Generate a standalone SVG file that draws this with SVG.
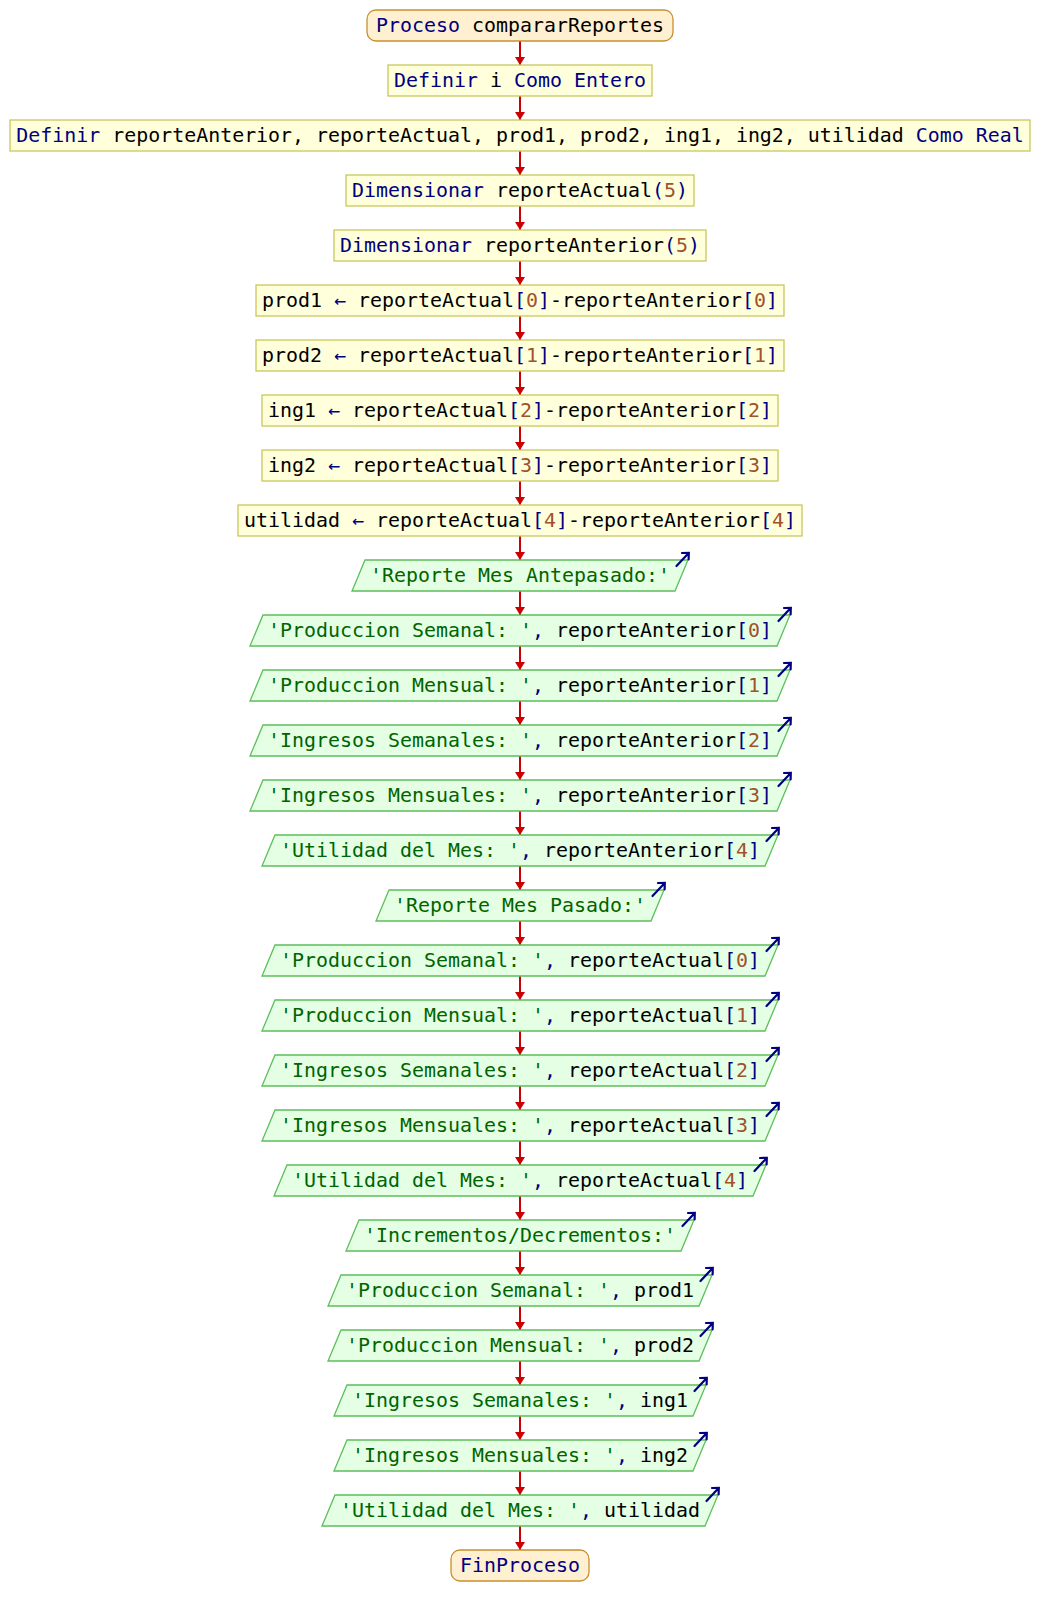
<svg xmlns="http://www.w3.org/2000/svg" xmlns:xlink="http://www.w3.org/1999/xlink" width="1040" height="1615" viewBox="0 0 1040 1615">
<style>
text{font-family:"DejaVu Sans Mono","Liberation Mono",monospace;font-size:19.93px;fill:#000;text-anchor:middle;white-space:pre}
.k{fill:#000080}.o{fill:#000080}.n{fill:#a0522d}.s{fill:#006400}
.term{fill:#fff0d2;stroke:#c8902e;stroke-width:1.3}
.proc{fill:#ffffdc;stroke:#c8c85a;stroke-width:1.3}
.para{fill:#e4ffe4;stroke:#5cbf5c;stroke-width:1.3}
.ico{fill:none;stroke:#000080;stroke-width:2.2;stroke-linecap:round;stroke-linejoin:miter}
.con{stroke:#cc0000;stroke-width:2;fill:none;marker-end:url(#ah)}
</style>
<defs>
<marker id="ah" viewBox="0 0 8 10" refX="8" refY="5" markerWidth="8" markerHeight="10" markerUnits="userSpaceOnUse" orient="auto"><path d="M0,0 L8,5 L0,10 z" fill="#cc0000"/></marker>
<g id="out"><path class="ico" d="M-11.5,6 L0.5,-6.8 M-6,-7 L0.8,-7.2 L0.6,-0.5"/></g>
</defs>
<rect width="1040" height="1615" fill="#ffffff"/>
<g id="connectors">
<line class="con" x1="520" y1="41" x2="520" y2="65"/>
<line class="con" x1="520" y1="96" x2="520" y2="120"/>
<line class="con" x1="520" y1="151" x2="520" y2="175"/>
<line class="con" x1="520" y1="206" x2="520" y2="230"/>
<line class="con" x1="520" y1="261" x2="520" y2="285"/>
<line class="con" x1="520" y1="316" x2="520" y2="340"/>
<line class="con" x1="520" y1="371" x2="520" y2="395"/>
<line class="con" x1="520" y1="426" x2="520" y2="450"/>
<line class="con" x1="520" y1="481" x2="520" y2="505"/>
<line class="con" x1="520" y1="536" x2="520" y2="560"/>
<line class="con" x1="520" y1="591" x2="520" y2="615"/>
<line class="con" x1="520" y1="646" x2="520" y2="670"/>
<line class="con" x1="520" y1="701" x2="520" y2="725"/>
<line class="con" x1="520" y1="756" x2="520" y2="780"/>
<line class="con" x1="520" y1="811" x2="520" y2="835"/>
<line class="con" x1="520" y1="866" x2="520" y2="890"/>
<line class="con" x1="520" y1="921" x2="520" y2="945"/>
<line class="con" x1="520" y1="976" x2="520" y2="1000"/>
<line class="con" x1="520" y1="1031" x2="520" y2="1055"/>
<line class="con" x1="520" y1="1086" x2="520" y2="1110"/>
<line class="con" x1="520" y1="1141" x2="520" y2="1165"/>
<line class="con" x1="520" y1="1196" x2="520" y2="1220"/>
<line class="con" x1="520" y1="1251" x2="520" y2="1275"/>
<line class="con" x1="520" y1="1306" x2="520" y2="1330"/>
<line class="con" x1="520" y1="1361" x2="520" y2="1385"/>
<line class="con" x1="520" y1="1416" x2="520" y2="1440"/>
<line class="con" x1="520" y1="1471" x2="520" y2="1495"/>
<line class="con" x1="520" y1="1526" x2="520" y2="1550"/>
</g>
<g id="n0"><rect class="term" x="367" y="10" width="306" height="31" rx="9"/><text x="520" y="32"><tspan class="k">Proceso</tspan> compararReportes</text></g>
<g id="n1"><rect class="proc" x="388" y="65" width="264" height="31"/><text x="520" y="87"><tspan class="k">Definir</tspan> i <tspan class="k">Como Entero</tspan></text></g>
<g id="n2"><rect class="proc" x="10" y="120" width="1020" height="31"/><text x="520" y="142"><tspan class="k">Definir</tspan> reporteAnterior, reporteActual, prod1, prod2, ing1, ing2, utilidad <tspan class="k">Como Real</tspan></text></g>
<g id="n3"><rect class="proc" x="346" y="175" width="348" height="31"/><text x="520" y="197"><tspan class="k">Dimensionar</tspan> reporteActual<tspan class="o">(</tspan><tspan class="n">5</tspan><tspan class="o">)</tspan></text></g>
<g id="n4"><rect class="proc" x="334" y="230" width="372" height="31"/><text x="520" y="252"><tspan class="k">Dimensionar</tspan> reporteAnterior<tspan class="o">(</tspan><tspan class="n">5</tspan><tspan class="o">)</tspan></text></g>
<g id="n5"><rect class="proc" x="256" y="285" width="528" height="31"/><text x="520" y="307">prod1 <tspan class="o">←</tspan> reporteActual<tspan class="o">[</tspan><tspan class="n">0</tspan><tspan class="o">]</tspan>-reporteAnterior<tspan class="o">[</tspan><tspan class="n">0</tspan><tspan class="o">]</tspan></text></g>
<g id="n6"><rect class="proc" x="256" y="340" width="528" height="31"/><text x="520" y="362">prod2 <tspan class="o">←</tspan> reporteActual<tspan class="o">[</tspan><tspan class="n">1</tspan><tspan class="o">]</tspan>-reporteAnterior<tspan class="o">[</tspan><tspan class="n">1</tspan><tspan class="o">]</tspan></text></g>
<g id="n7"><rect class="proc" x="262" y="395" width="516" height="31"/><text x="520" y="417">ing1 <tspan class="o">←</tspan> reporteActual<tspan class="o">[</tspan><tspan class="n">2</tspan><tspan class="o">]</tspan>-reporteAnterior<tspan class="o">[</tspan><tspan class="n">2</tspan><tspan class="o">]</tspan></text></g>
<g id="n8"><rect class="proc" x="262" y="450" width="516" height="31"/><text x="520" y="472">ing2 <tspan class="o">←</tspan> reporteActual<tspan class="o">[</tspan><tspan class="n">3</tspan><tspan class="o">]</tspan>-reporteAnterior<tspan class="o">[</tspan><tspan class="n">3</tspan><tspan class="o">]</tspan></text></g>
<g id="n9"><rect class="proc" x="238" y="505" width="564" height="31"/><text x="520" y="527">utilidad <tspan class="o">←</tspan> reporteActual<tspan class="o">[</tspan><tspan class="n">4</tspan><tspan class="o">]</tspan>-reporteAnterior<tspan class="o">[</tspan><tspan class="n">4</tspan><tspan class="o">]</tspan></text></g>
<g id="n10"><polygon class="para" points="365,560 688,560 675,591 352,591"/><use xlink:href="#out" x="688" y="560"/><text x="520" y="582"><tspan class="s">'Reporte Mes Antepasado:'</tspan></text></g>
<g id="n11"><polygon class="para" points="263,615 790,615 777,646 250,646"/><use xlink:href="#out" x="790" y="615"/><text x="520" y="637"><tspan class="s">'Produccion Semanal: '</tspan><tspan class="o">,</tspan> reporteAnterior<tspan class="o">[</tspan><tspan class="n">0</tspan><tspan class="o">]</tspan></text></g>
<g id="n12"><polygon class="para" points="263,670 790,670 777,701 250,701"/><use xlink:href="#out" x="790" y="670"/><text x="520" y="692"><tspan class="s">'Produccion Mensual: '</tspan><tspan class="o">,</tspan> reporteAnterior<tspan class="o">[</tspan><tspan class="n">1</tspan><tspan class="o">]</tspan></text></g>
<g id="n13"><polygon class="para" points="263,725 790,725 777,756 250,756"/><use xlink:href="#out" x="790" y="725"/><text x="520" y="747"><tspan class="s">'Ingresos Semanales: '</tspan><tspan class="o">,</tspan> reporteAnterior<tspan class="o">[</tspan><tspan class="n">2</tspan><tspan class="o">]</tspan></text></g>
<g id="n14"><polygon class="para" points="263,780 790,780 777,811 250,811"/><use xlink:href="#out" x="790" y="780"/><text x="520" y="802"><tspan class="s">'Ingresos Mensuales: '</tspan><tspan class="o">,</tspan> reporteAnterior<tspan class="o">[</tspan><tspan class="n">3</tspan><tspan class="o">]</tspan></text></g>
<g id="n15"><polygon class="para" points="275,835 778,835 765,866 262,866"/><use xlink:href="#out" x="778" y="835"/><text x="520" y="857"><tspan class="s">'Utilidad del Mes: '</tspan><tspan class="o">,</tspan> reporteAnterior<tspan class="o">[</tspan><tspan class="n">4</tspan><tspan class="o">]</tspan></text></g>
<g id="n16"><polygon class="para" points="389,890 664,890 651,921 376,921"/><use xlink:href="#out" x="664" y="890"/><text x="520" y="912"><tspan class="s">'Reporte Mes Pasado:'</tspan></text></g>
<g id="n17"><polygon class="para" points="275,945 778,945 765,976 262,976"/><use xlink:href="#out" x="778" y="945"/><text x="520" y="967"><tspan class="s">'Produccion Semanal: '</tspan><tspan class="o">,</tspan> reporteActual<tspan class="o">[</tspan><tspan class="n">0</tspan><tspan class="o">]</tspan></text></g>
<g id="n18"><polygon class="para" points="275,1000 778,1000 765,1031 262,1031"/><use xlink:href="#out" x="778" y="1000"/><text x="520" y="1022"><tspan class="s">'Produccion Mensual: '</tspan><tspan class="o">,</tspan> reporteActual<tspan class="o">[</tspan><tspan class="n">1</tspan><tspan class="o">]</tspan></text></g>
<g id="n19"><polygon class="para" points="275,1055 778,1055 765,1086 262,1086"/><use xlink:href="#out" x="778" y="1055"/><text x="520" y="1077"><tspan class="s">'Ingresos Semanales: '</tspan><tspan class="o">,</tspan> reporteActual<tspan class="o">[</tspan><tspan class="n">2</tspan><tspan class="o">]</tspan></text></g>
<g id="n20"><polygon class="para" points="275,1110 778,1110 765,1141 262,1141"/><use xlink:href="#out" x="778" y="1110"/><text x="520" y="1132"><tspan class="s">'Ingresos Mensuales: '</tspan><tspan class="o">,</tspan> reporteActual<tspan class="o">[</tspan><tspan class="n">3</tspan><tspan class="o">]</tspan></text></g>
<g id="n21"><polygon class="para" points="287,1165 766,1165 753,1196 274,1196"/><use xlink:href="#out" x="766" y="1165"/><text x="520" y="1187"><tspan class="s">'Utilidad del Mes: '</tspan><tspan class="o">,</tspan> reporteActual<tspan class="o">[</tspan><tspan class="n">4</tspan><tspan class="o">]</tspan></text></g>
<g id="n22"><polygon class="para" points="359,1220 694,1220 681,1251 346,1251"/><use xlink:href="#out" x="694" y="1220"/><text x="520" y="1242"><tspan class="s">'Incrementos/Decrementos:'</tspan></text></g>
<g id="n23"><polygon class="para" points="341,1275 712,1275 699,1306 328,1306"/><use xlink:href="#out" x="712" y="1275"/><text x="520" y="1297"><tspan class="s">'Produccion Semanal: '</tspan><tspan class="o">,</tspan> prod1</text></g>
<g id="n24"><polygon class="para" points="341,1330 712,1330 699,1361 328,1361"/><use xlink:href="#out" x="712" y="1330"/><text x="520" y="1352"><tspan class="s">'Produccion Mensual: '</tspan><tspan class="o">,</tspan> prod2</text></g>
<g id="n25"><polygon class="para" points="347,1385 706,1385 693,1416 334,1416"/><use xlink:href="#out" x="706" y="1385"/><text x="520" y="1407"><tspan class="s">'Ingresos Semanales: '</tspan><tspan class="o">,</tspan> ing1</text></g>
<g id="n26"><polygon class="para" points="347,1440 706,1440 693,1471 334,1471"/><use xlink:href="#out" x="706" y="1440"/><text x="520" y="1462"><tspan class="s">'Ingresos Mensuales: '</tspan><tspan class="o">,</tspan> ing2</text></g>
<g id="n27"><polygon class="para" points="335,1495 718,1495 705,1526 322,1526"/><use xlink:href="#out" x="718" y="1495"/><text x="520" y="1517"><tspan class="s">'Utilidad del Mes: '</tspan><tspan class="o">,</tspan> utilidad</text></g>
<g id="n28"><rect class="term" x="451" y="1550" width="138" height="31" rx="9"/><text x="520" y="1572"><tspan class="k">FinProceso</tspan></text></g>
</svg>
